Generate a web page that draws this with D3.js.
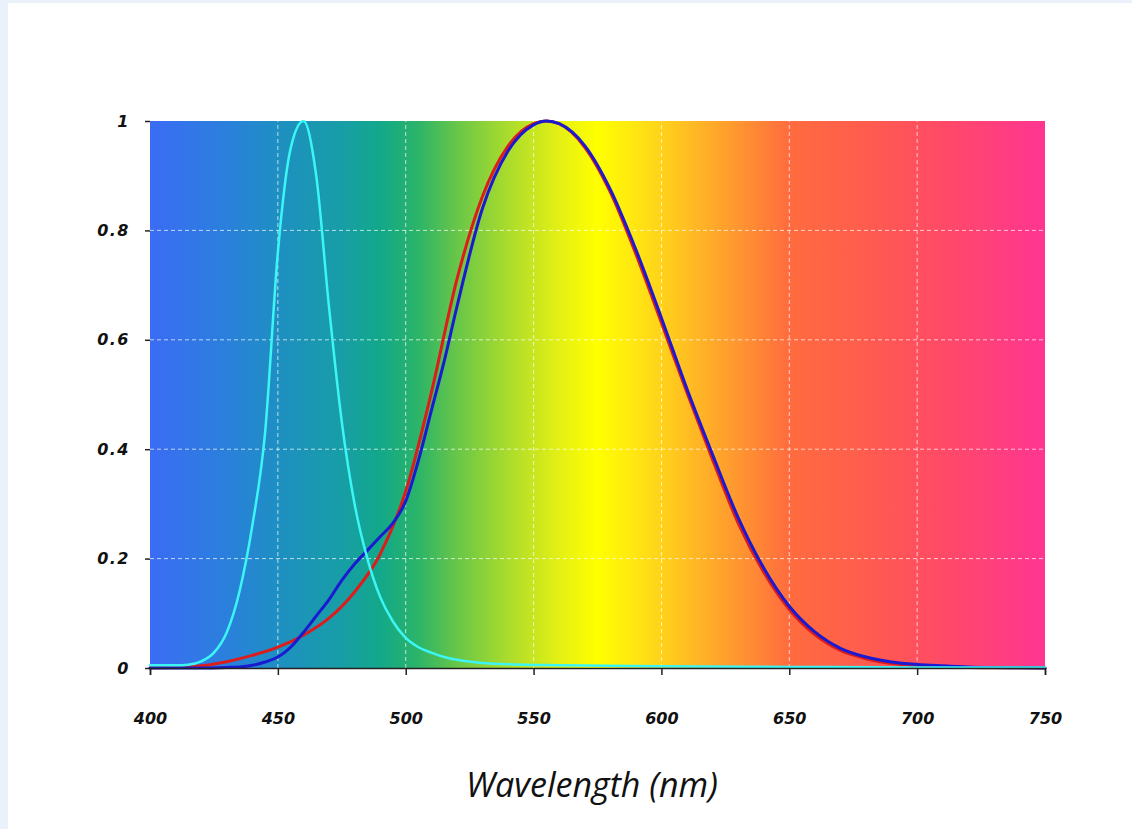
<!DOCTYPE html>
<html>
<head>
<meta charset="utf-8">
<script src="https://cdn.jsdelivr.net/npm/d3@7"></script>
<style>
html,body{margin:0;padding:0;background:#eaf1fb;}
svg{display:block;}
</style>
</head>
<body>
<svg id="chart" width="1132" height="829"></svg>
<script>
// ---------- data ----------
const xTicks = [400, 450, 500, 550, 600, 650, 700, 750];
const yTicks = [0, 0.2, 0.4, 0.6, 0.8, 1];
const yTickLabels = ["0", "0.2", "0.4", "0.6", "0.8", "1"];
const xTitle = "Wavelength (nm)";

// background spectrum gradient stops
const spectrumNm = [400, 430, 450, 475, 490, 505, 520, 540, 560, 575, 590, 610, 630, 650, 680, 710, 750];
const spectrumColors = ["#3b6cf5", "#2a80dc", "#1e8fc2", "#179ea6", "#12a88a", "#2cb468", "#68c648", "#aadc2c", "#e4f014", "#ffff00", "#ffe612", "#ffbe22", "#ff9630", "#ff6c3e", "#ff5c4e", "#ff4a66", "#ff3592"];

// cyan: blue LED emission
const cyanNm  = [400, 405, 410, 415, 420, 425, 430, 435, 440, 445, 450, 455, 460, 465, 470, 475, 480, 485, 490, 495, 500, 505, 510, 515, 520, 530, 540, 560, 600, 650, 700, 750];
const cyanVal = [0.005, 0.005, 0.005, 0.006, 0.012, 0.028, 0.065, 0.14, 0.26, 0.43, 0.76, 0.95, 1.0, 0.9, 0.66, 0.45, 0.3, 0.2, 0.13, 0.085, 0.055, 0.038, 0.028, 0.02, 0.015, 0.009, 0.007, 0.005, 0.003, 0.002, 0.001, 0.001];

// red: photopic V(lambda)
const redNm  = [400, 410, 420, 430, 440, 450, 460, 470, 480, 490, 500, 510, 520, 530, 540, 550, 555, 560, 570, 580, 590, 600, 610, 620, 630, 640, 650, 660, 670, 680, 690, 700, 710, 720, 730, 740, 750];
const redVal = [0.0004, 0.0012, 0.004, 0.0116, 0.023, 0.038, 0.06, 0.091, 0.139, 0.208, 0.323, 0.503, 0.71, 0.862, 0.954, 0.995, 1.0, 0.995, 0.952, 0.87, 0.757, 0.631, 0.503, 0.381, 0.265, 0.175, 0.107, 0.061, 0.032, 0.017, 0.0082, 0.0041, 0.0021, 0.00105, 0.00052, 0.00025, 0.00012];

// blue: measured sensor response
const blueNm  = [400, 420, 430, 435, 440, 445, 450, 455, 460, 465, 470, 475, 480, 485, 490, 495, 500, 505, 510, 515, 520, 530, 540, 550, 555, 560, 570, 580, 590, 600, 610, 620, 630, 640, 650, 660, 670, 680, 690, 700, 710, 720, 730, 740, 750];
const blueVal = [0.0, 0.0, 0.001, 0.002, 0.005, 0.011, 0.02, 0.038, 0.065, 0.095, 0.125, 0.16, 0.19, 0.215, 0.24, 0.265, 0.305, 0.38, 0.47, 0.56, 0.66, 0.84, 0.945, 0.993, 1.0, 0.995, 0.955, 0.875, 0.765, 0.64, 0.51, 0.39, 0.275, 0.183, 0.113, 0.066, 0.036, 0.02, 0.011, 0.0065, 0.004, 0.002, 0.001, 0.0005, 0.0];

// ---------- layout ----------
const svg = d3.select("#chart");
const W = 1132, H = 829;
const plot = {left: 150, right: 1045, top: 121, bottom: 668};

svg.append("rect").attr("x", 8).attr("y", 3).attr("width", W - 8).attr("height", H - 3).attr("fill", "#ffffff");

const x = d3.scaleLinear().domain([400, 750]).range([plot.left, plot.right]);
const y = d3.scaleLinear().domain([0, 1]).range([plot.bottom, plot.top]);

// gradient
const defs = svg.append("defs");
const grad = defs.append("linearGradient").attr("id", "spec")
  .attr("gradientUnits", "userSpaceOnUse")
  .attr("x1", x(400)).attr("x2", x(750)).attr("y1", 0).attr("y2", 0);
spectrumNm.forEach((nm, i) => {
  grad.append("stop").attr("offset", (nm - 400) / 350).attr("stop-color", spectrumColors[i]);
});
svg.append("rect")
  .attr("x", x(400)).attr("y", y(1))
  .attr("width", x(750) - x(400)).attr("height", y(0) - y(1))
  .attr("fill", "url(#spec)");

// grid
const g = svg.append("g");
g.selectAll(".vg").data(xTicks.filter(d => d > 400 && d < 750)).enter().append("line")
  .attr("x1", d => x(d)).attr("x2", d => x(d)).attr("y1", y(0)).attr("y2", y(1))
  .attr("stroke", "#ffffff").attr("stroke-opacity", 0.7).attr("stroke-width", 1).attr("stroke-dasharray", "4,3");
g.selectAll(".hg").data(yTicks.filter(d => d > 0 && d < 1)).enter().append("line")
  .attr("x1", x(400)).attr("x2", x(750)).attr("y1", d => y(d)).attr("y2", d => y(d))
  .attr("stroke", "#ffffff").attr("stroke-opacity", 0.7).attr("stroke-width", 1).attr("stroke-dasharray", "4,3");

// curves
const line = d3.line().x(d => x(d[0])).y(d => y(d[1])).curve(d3.curveMonotoneX);
function draw(nm, val, color, w) {
  svg.append("path").datum(nm.map((n, i) => [n, val[i]]))
    .attr("d", line).attr("fill", "none").attr("stroke", color)
    .attr("stroke-width", w).attr("stroke-linejoin", "round").attr("stroke-linecap", "round");
}
draw(redNm, redVal, "#dd1c1c", 3);
draw(blueNm, blueVal, "#1a1ad0", 3);
draw(cyanNm, cyanVal, "#3cf6f6", 2.5);

// axes
const xAxis = d3.axisBottom(x).tickValues(xTicks).tickSize(7).tickFormat(d3.format("d"));
const xg = svg.append("g").attr("transform", `translate(0,${plot.bottom})`).call(xAxis);
xg.select(".domain").attr("stroke", "#222").attr("stroke-width", 1.5);
xg.selectAll(".tick line").attr("stroke", "#222").attr("stroke-width", 1.5);
xg.selectAll(".tick text")
  .attr("y", 56).attr("dy", 0)
  .attr("font-family", "DejaVu Sans").attr("font-style", "italic").attr("font-weight", "bold")
  .attr("font-size", 16).attr("fill", "#111");

const yAxis = d3.axisLeft(y).tickValues(yTicks).tickSize(5).tickFormat((d, i) => yTickLabels[i]);
const yg = svg.append("g").attr("transform", `translate(${plot.left},0)`).call(yAxis);
yg.select(".domain").remove();
yg.selectAll(".tick line").attr("stroke", "#222").attr("stroke-width", 1.5);
yg.selectAll(".tick text")
  .attr("x", -20).attr("dy", "0.32em")
  .attr("font-family", "DejaVu Sans").attr("font-style", "italic").attr("font-weight", "bold")
  .attr("font-size", 16).attr("letter-spacing", "1.5px").attr("fill", "#111");

// x title
svg.append("text").attr("x", 592).attr("y", 797).attr("text-anchor", "middle")
  .attr("font-family", "Open Sans").attr("font-style", "italic")
  .attr("font-size", 34).attr("fill", "#111").text(xTitle);
</script>
</body>
</html>
